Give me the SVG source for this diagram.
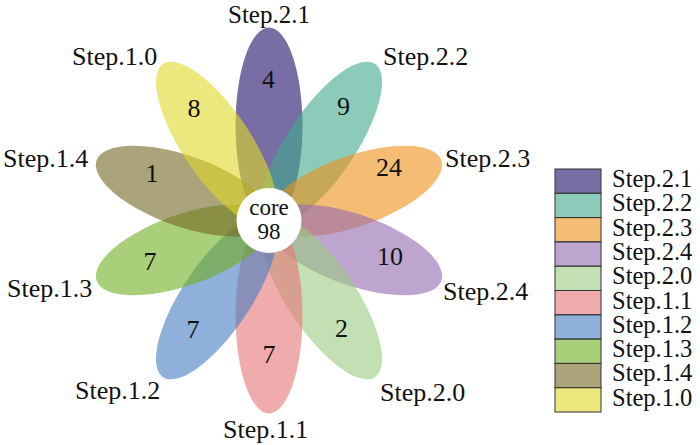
<svg xmlns="http://www.w3.org/2000/svg" width="700" height="445" viewBox="0 0 700 445">
<style>
text{font-family:"Liberation Serif","DejaVu Serif","Times New Roman",serif;font-size:26px;fill:#111}
.n{text-anchor:middle}
.k{font-size:23px}
.lg{font-size:24.5px}
.top{font-size:25px}
.p{fill-opacity:0.6;stroke:none}
.lb{fill-opacity:0.6;stroke:#333;stroke-width:1}
.c1{fill:#1e0d69}.c2{fill:#3fa88c}.c3{fill:#ee8f19}.c4{fill:#9369af}.c5{fill:#9bca82}
.c6{fill:#e67575}.c7{fill:#437bc1}.c8{fill:#71af21}.c9{fill:#736621}.c10{fill:#e1d928}
</style>
<rect width="700" height="445" fill="#fff"/>
<g id="petals" transform="translate(269,220.5) scale(0.94,1)">
<ellipse id="petal-step21" class="p c1" cx="0" cy="-95" rx="35.6" ry="98" transform="rotate(0)"/>
<ellipse id="petal-step22" class="p c2" cx="0" cy="-95" rx="35.6" ry="98" transform="rotate(36)"/>
<ellipse id="petal-step23" class="p c3" cx="0" cy="-95" rx="35.6" ry="98" transform="rotate(72)"/>
<ellipse id="petal-step24" class="p c4" cx="0" cy="-95" rx="35.6" ry="98" transform="rotate(108)"/>
<ellipse id="petal-step20" class="p c5" cx="0" cy="-95" rx="35.6" ry="98" transform="rotate(144)"/>
<ellipse id="petal-step11" class="p c6" cx="0" cy="-95" rx="35.6" ry="98" transform="rotate(180)"/>
<ellipse id="petal-step12" class="p c7" cx="0" cy="-95" rx="35.6" ry="98" transform="rotate(216)"/>
<ellipse id="petal-step13" class="p c8" cx="0" cy="-95" rx="35.6" ry="98" transform="rotate(252)"/>
<ellipse id="petal-step14" class="p c9" cx="0" cy="-95" rx="35.6" ry="98" transform="rotate(288)"/>
<ellipse id="petal-step10" class="p c10" cx="0" cy="-95" rx="35.6" ry="98" transform="rotate(324)"/>
</g>
<g id="core">
<circle cx="269" cy="220.5" r="32.5" fill="#fff"/>
<text class="n k" x="269" y="215">core</text>
<text class="n k" x="269" y="239">98</text>
</g>
<g id="counts">
<text class="n" x="268.5" y="88">4</text>
<text class="n" x="343.5" y="115">9</text>
<text class="n" x="389" y="176">24</text>
<text class="n" x="390" y="265">10</text>
<text class="n" x="341.5" y="337">2</text>
<text class="n" x="269" y="363">7</text>
<text class="n" x="193" y="338">7</text>
<text class="n" x="150" y="270">7</text>
<text class="n" x="152" y="182">1</text>
<text class="n" x="194" y="117">8</text>
</g>
<g id="labels">
<text class="top" x="228" y="22.5">Step.2.1</text>
<text x="383" y="65">Step.2.2</text>
<text x="445" y="167">Step.2.3</text>
<text x="443" y="300">Step.2.4</text>
<text x="380" y="401">Step.2.0</text>
<text x="223" y="438">Step.1.1</text>
<text x="75" y="399">Step.1.2</text>
<text x="7" y="297">Step.1.3</text>
<text x="3" y="167">Step.1.4</text>
<text x="72" y="65">Step.1.0</text>
</g>
<g id="legend">
<rect class="lb c1" x="555" y="169" width="46" height="24.3"/>
<rect class="lb c2" x="555" y="193.3" width="46" height="24.3"/>
<rect class="lb c3" x="555" y="217.6" width="46" height="24.3"/>
<rect class="lb c4" x="555" y="241.9" width="46" height="24.3"/>
<rect class="lb c5" x="555" y="266.2" width="46" height="24.3"/>
<rect class="lb c6" x="555" y="290.5" width="46" height="24.3"/>
<rect class="lb c7" x="555" y="314.8" width="46" height="24.3"/>
<rect class="lb c8" x="555" y="339.1" width="46" height="24.3"/>
<rect class="lb c9" x="555" y="363.4" width="46" height="24.3"/>
<rect class="lb c10" x="555" y="387.7" width="46" height="24.3"/>
<text class="lg" x="612" y="187">Step.2.1</text>
<text class="lg" x="612" y="211.3">Step.2.2</text>
<text class="lg" x="612" y="235.6">Step.2.3</text>
<text class="lg" x="612" y="259.9">Step.2.4</text>
<text class="lg" x="612" y="284.2">Step.2.0</text>
<text class="lg" x="612" y="308.5">Step.1.1</text>
<text class="lg" x="612" y="332.8">Step.1.2</text>
<text class="lg" x="612" y="357.1">Step.1.3</text>
<text class="lg" x="612" y="381.4">Step.1.4</text>
<text class="lg" x="612" y="405.7">Step.1.0</text>
</g>
</svg>
